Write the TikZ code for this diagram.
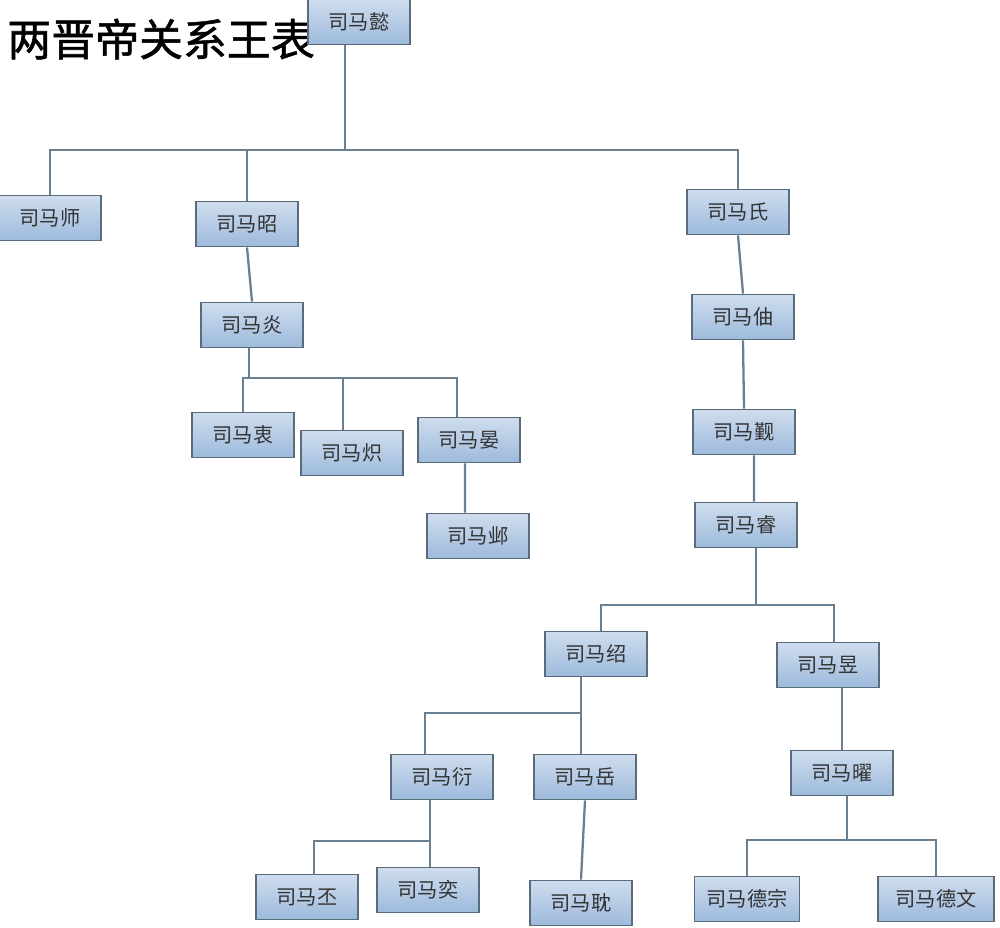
\documentclass[tikz,border=0pt]{standalone}
\usepackage{fontspec}
\setmainfont{Noto Sans CJK SC}
\newfontfamily\titlefont{Noto Sans CJK SC}[FakeBold=1.2]
\usepackage{tikz}
\usetikzlibrary{positioning,calc}
\definecolor{boxtop}{HTML}{CFDDEE}
\definecolor{boxbot}{HTML}{9DBADC}
\definecolor{boxline}{HTML}{5A6C7C}
\definecolor{linkcol}{HTML}{6A7F90}
\definecolor{txt}{HTML}{333333}
\tikzset{x=0.02cm, y=-0.02cm}
\tikzset{person/.style={draw=boxline, line width=1.1pt, top color=boxtop, bottom color=boxbot,
    minimum width=2.04cm, minimum height=0.9cm, inner sep=2pt, text=txt,
    font=\fontsize{11.5}{11.5}\selectfont}}
\tikzset{link/.style={draw=linkcol, line width=1.3pt}}
\begin{document}
\begin{tikzpicture}
        \fill[white] (0,0) rectangle (1000,927);
        \useasboundingbox (0,0) rectangle (1000,927);
        \node[anchor=west, inner sep=0pt, font=\fontsize{25}{25}\titlefont] (title) at (7,39) {两晋帝关系王表};
        % generation 1-2
        \node[person] (yi) at (359,22) {司马懿};
        \node[person] (shi) at (50,218) {司马师};
        \node[person] (zhao) at (247,224) {司马昭};
        \node[person] (shiS) at (738,212) {司马氏};
        % left branch
        \node[person] (yan) at (252,325) {司马炎};
        \node[person] (zhong) at (243,435) {司马衷};
        \node[person] (chi) at (352,453) {司马炽};
        \node[person] (yanB) at (469,440) {司马晏};
        \node[person] (ye) at (478,536) {司马邺};
        % right branch
        \node[person] (zhou) at (743,317) {司马伷};
        \node[person] (jin) at (744,432) {司马觐};
        \node[person] (rui) at (746,525) {司马睿};
        \node[person] (shao) at (596,654) {司马绍};
        \node[person] (yu) at (828,665) {司马昱};
        \node[person] (yanC) at (442,777) {司马衍};
        \node[person] (yue) at (585,777) {司马岳};
        \node[person] (yao) at (842,773) {司马曜};
        \node[person] (pi) at (307,897) {司马丕};
        \node[person] (yiB) at (428,890) {司马奕};
        \node[person] (dan) at (581,903) {司马耽};
        \node[person, minimum width=2.1cm] (dezong) at (747,899) {司马德宗};
        \node[person, minimum width=2.32cm] (dewen) at (936,899) {司马德文};
        % bars
        \coordinate (b1) at (345,150);
        \coordinate (b2) at (249,378);
        \coordinate (b3) at (756,605);
        \coordinate (b4) at (581,713);
        \coordinate (d4) at (425,713);
        \coordinate (b5) at (430,841);
        \coordinate (b6) at (847,840);
        \draw[link] (b1 |- yi.south) -- (b1);
        \draw[link] (shi.north) |- (b1);
        \draw[link] (zhao.north) |- (b1);
        \draw[link] (shiS.north) |- (b1);
        \draw[link] (zhao.south) -- (yan.north);
        \draw[link] (b2 |- yan.south) -- (b2);
        \draw[link] (b2) -| (zhong.north);
        \draw[link] (b2) -| ([xshift=-0.18cm]chi.north);
        \draw[link] (b2) -| ([xshift=-0.24cm]yanB.north);
        \draw[link] ([xshift=-0.08cm]yanB.south) -- ([xshift=-0.26cm]ye.north);
        \draw[link] (shiS.south) -- (zhou.north);
        \draw[link] (zhou.south) -- (jin.north);
        \draw[link] ([xshift=0.2cm]jin.south) -- ([xshift=0.16cm]rui.north);
        \draw[link] (b3 |- rui.south) -- (b3);
        \draw[link] (b3) -| ([xshift=0.1cm]shao.north);
        \draw[link] (b3) -| ([xshift=0.12cm]yu.north);
        \draw[link] (b4 |- shao.south) -- (b4 |- yue.north);
        \draw[link] (b4) -- (d4) -- (d4 |- yanC.north);
        \draw[link] (yao.north) -- (yao.north |- yu.south);
        \draw[link] (yue.south) -- (dan.north);
        \draw[link] (b5 |- yanC.south) -- (b5);
        \draw[link] (b5) -| ([xshift=0.14cm]pi.north);
        \draw[link] (b5) -- (b5 |- yiB.north);
        \draw[link] (b6 |- yao.south) -- (b6);
        \draw[link] (b6) -| (dezong.north);
        \draw[link] (b6) -| (dewen.north);
\end{tikzpicture}
\end{document}
